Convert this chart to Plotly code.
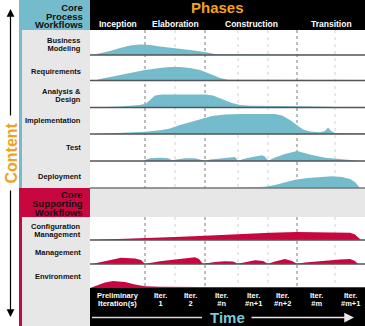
import plotly.graph_objects as go

# ---------------- data ----------------
PHASES = ["Inception", "Elaboration", "Construction", "Transition"]
PHASE_BOUNDS = [0, 55, 115, 207, 275]          # time units
ITER_TOP = ["Preliminary", "Iter.", "Iter.", "Iter.", "Iter.", "Iter.", "Iter.", "Iter."]
ITER_BOTTOM = ["Iteration(s)", "1", "2", "#n", "#n+1", "#n+2", "#m", "#m+1"]
ITER_BOUNDS = [0, 55, 85, 115, 148, 178, 207, 245, 275]

PROCESS_LABELS = [["Business", "Modeling"], ["Requirements"], ["Analysis &", "Design"],
                  ["Implementation"], ["Test"], ["Deployment"]]
SUPPORT_LABELS = [["Configuration", "Management"], ["Management"], ["Environment"]]

bm_t = [2, 10, 20, 30, 40, 50, 60, 70, 85, 100, 115, 125, 135, 275]
bm_h = [0, 1.5, 4, 7, 9.5, 10.5, 10, 8.5, 7, 5, 3, 1, 0.7, 0.5]

req_t = [5, 10, 25, 40, 55, 70, 80, 90, 100, 110, 117, 123, 130, 138, 275]
req_h = [0, 1.5, 4.5, 7.5, 10.5, 12.5, 13.5, 13.5, 12.5, 10.5, 8, 5.5, 2.5, 0.8, 0.5]

ad_t = [10, 30, 50, 56, 60, 65, 72, 90, 115, 123, 130, 135, 142, 150, 160, 210, 240, 275]
ad_h = [0.3, 1, 2.5, 4, 8, 12, 13, 13.2, 13, 12, 9.5, 7.5, 4.5, 2.5, 1.7, 1.2, 0.8, 0.5]

imp_t = [5, 15, 35, 55, 70, 80, 90, 100, 110, 122, 135, 150, 185, 192, 200, 207, 213,
         220, 230, 235, 238, 241, 245, 275]
imp_h = [0, 0.5, 1.2, 2.3, 3.8, 5.5, 9, 12, 15, 18, 19.5, 20, 20, 18.5, 14, 8.5, 4.5,
         2.5, 1.7, 3, 6.5, 3, 1, 0.7]

test_t = [54, 56, 60, 70, 78, 83, 86, 95, 105, 112, 115, 120, 130, 140, 145, 148, 155,
          165, 172, 175, 178, 185, 195, 207, 220, 235, 250, 268, 272]
test_h = [0, 1.5, 2.7, 3.2, 2.7, 0.4, 1.5, 2.8, 2.8, 1.5, 0.3, 1.5, 2.7, 3.7, 4, 0.3, 2.5,
          4.5, 5.7, 4.5, 0.3, 3.5, 7, 10, 6.5, 3.3, 2, 0.7, 0]

dep_t = [140, 165, 175, 185, 195, 205, 218, 230, 242, 252, 260, 265, 268, 270]
dep_h = [0, 0.5, 1.2, 3, 6, 8.3, 10, 11, 11.7, 11, 9, 6, 3, 0]

cfg_t = [0, 20, 55, 85, 115, 150, 180, 207, 240, 260, 265, 268, 271]
cfg_h = [0, 0.6, 1.8, 3, 4.3, 6, 7.3, 8, 7.8, 7.3, 5.5, 3, 0]

mgt_t = [2, 15, 31, 45, 51, 55, 57, 70, 90, 105, 109, 113, 115, 125, 135, 143, 148, 155,
         165, 173, 178, 185, 195, 202, 207, 215, 230, 250, 260, 265, 268]
mgt_h = [0, 3, 6.3, 5.5, 4, 0, 0.5, 2.8, 5, 6.7, 5, 0, 0.5, 2, 2.7, 2.5, 0.3, 2,
         3.7, 3, 0.3, 2.5, 5, 3, 0.3, 1.5, 3, 4.5, 5, 3, 0]

env_t = [0, 5, 15, 23, 35, 45, 55, 70, 110, 275]
env_h = [0, 2, 5.5, 7, 6, 3.5, 1.7, 1.2, 1, 1]

PROCESS_SERIES = [(bm_t, bm_h), (req_t, req_h), (ad_t, ad_h), (imp_t, imp_h),
                  (test_t, test_h), (dep_t, dep_h)]
SUPPORT_SERIES = [(cfg_t, cfg_h), (mgt_t, mgt_h), (env_t, env_h)]

# ---------------- layout constants ----------------
W, H = 365, 326
X0 = 90                   # left edge of time area
XR = 365
BLUE = "#74bccb"
RED = "#c8063f"
GRAY = "#e7e7e7"
ORANGE = "#f2a31b"
FONT = "Liberation Sans, Arial, sans-serif"

process_bases = [55, 80.5, 107.5, 134, 161, 188]
support_bases = [240, 264, 288]
process_label_y = [44.8, 71, 95.3, 120.7, 147.3, 176.7]     # centre of each label block
support_label_y = [230.6, 252.7, 276]

fig = go.Figure()
shapes = []
ann = []


def rect(x0, y0, x1, y1, color, layer="below"):
    shapes.append(dict(type="rect", xref="x", yref="y", x0=x0, x1=x1, y0=y0, y1=y1,
                       fillcolor=color, line=dict(width=0), layer=layer))


def text(x, y, lines, size, color, xanchor="center", angle=0, spacing=None):
    """Multi-line bold text in one annotation; 'spacing' = distance between lines (px)."""
    if isinstance(lines, str):
        lines = [lines]
    if spacing is None:
        spacing = size * 1.3
    base = spacing / 1.3  # plotly line height = 1.3 * base font size
    body = "<br>".join('<span style="font-size:%.2fpx"><b>%s</b></span>' % (size, s)
                       for s in lines)
    ann.append(dict(x=x, y=y, xref="x", yref="y", text=body, showarrow=False,
                    xanchor=xanchor, yanchor="middle", textangle=angle, borderpad=0,
                    align=("right" if xanchor == "right" else "center"),
                    font=dict(family=FONT, size=base, color=color)))


# backgrounds
rect(22, 30, X0, 188, GRAY)
rect(22, 217, X0, H, GRAY)
rect(19, 30, 22, 188, BLUE)
rect(19, 0, X0, 30, BLUE)
rect(19, 188, X0, 217, RED)
rect(19, 217, 22, H, RED)
rect(X0, 0, XR, 30, "#000000")
rect(X0, 188, XR, 217, GRAY)
rect(X0, 288, XR, H, "#000000")

# vertical phase / iteration lines
phase_px = [X0 + b for b in PHASE_BOUNDS[1:-1]]
iter_px = [X0 + b for b in ITER_BOUNDS[1:-1] if b not in PHASE_BOUNDS]
for (ya, yb) in [(30, 188), (217, 288)]:
    for xp in phase_px:
        shapes.append(dict(type="line", xref="x", yref="y", x0=xp, x1=xp, y0=ya, y1=yb,
                           line=dict(color="#a8a8a8", width=1.5, dash="dot"), layer="below"))
    for xp in iter_px:
        shapes.append(dict(type="line", xref="x", yref="y", x0=xp, x1=xp, y0=ya, y1=yb,
                           line=dict(color="#d0d0d0", width=1, dash="3px,4px"), layer="below"))

# humps
for (t, h), base in zip(PROCESS_SERIES, process_bases):
    xs = [X0 + t[0]] + [X0 + v for v in t] + [X0 + t[-1]]
    ys = [base] + [base - v for v in h] + [base]
    fig.add_trace(go.Scatter(x=xs, y=ys, mode="lines", fill="toself", fillcolor=BLUE,
                             line=dict(width=0, color=BLUE), hoverinfo="skip", showlegend=False))
for (t, h), base in zip(SUPPORT_SERIES, support_bases):
    xs = [X0 + t[0]] + [X0 + v for v in t] + [X0 + t[-1]]
    ys = [base] + [base - v for v in h] + [base]
    fig.add_trace(go.Scatter(x=xs, y=ys, mode="lines", fill="toself", fillcolor=RED,
                             line=dict(width=0, color=RED), hoverinfo="skip", showlegend=False))

# baselines
for b in process_bases[:-1] + support_bases[:-1]:
    shapes.append(dict(type="line", xref="x", yref="y", x0=X0, x1=XR, y0=b, y1=b,
                       line=dict(color="#555555", width=1.5), layer="above"))
shapes.append(dict(type="line", xref="x", yref="y", x0=X0, x1=XR, y0=188, y1=188,
                   line=dict(color="#777777", width=1.5), layer="above"))

# header texts
text((X0 + XR) / 2 - 10, 7.5, "Phases", 15, ORANGE)
for name, a, b in zip(PHASES, PHASE_BOUNDS[:-1], PHASE_BOUNDS[1:]):
    text(X0 + (a + b) / 2, 23.5, name, 8.5, "#ffffff")
text(84, 16, ["Core", "Process", "Workflows"], 9.5, "#111111", xanchor="right", spacing=8.7)
text(84, 203, ["Core", "Supporting", "Workflows"], 9.5, "#111111", xanchor="right", spacing=8.8)

# row labels
for lines, y in zip(PROCESS_LABELS + SUPPORT_LABELS, process_label_y + support_label_y):
    text(82, y, lines, 7.5, "#111111", xanchor="right", spacing=8.4)

# iteration labels
for top, bot, a, b in zip(ITER_TOP, ITER_BOTTOM, ITER_BOUNDS[:-1], ITER_BOUNDS[1:]):
    cx = X0 + (a + b) / 2
    text(cx, 299.6, [top, bot], 7.5, "#ffffff", spacing=7.8)

# Time arrow
shapes.append(dict(type="line", xref="x", yref="y", x0=92, x1=202, y0=317.5, y1=317.5,
                   line=dict(color="#d8d8d8", width=1.5), layer="above"))
ann.append(dict(x=354, y=317.5, ax=250, ay=317.5, xref="x", yref="y", axref="x", ayref="y",
                text="", showarrow=True, arrowhead=2, arrowsize=1.3, arrowwidth=1.5,
                arrowcolor="#e8e8e8"))
text(227, 317, "Time", 15, "#7cc7d8")

# Content vertical arrow
ann.append(dict(x=10.5, y=9, ax=10.5, ay=117, xref="x", yref="y", axref="x", ayref="y",
                text="", showarrow=True, arrowhead=2, arrowsize=1.3, arrowwidth=1.2,
                arrowcolor="#000000"))
ann.append(dict(x=10.5, y=317, ax=10.5, ay=189, xref="x", yref="y", axref="x", ayref="y",
                text="", showarrow=True, arrowhead=2, arrowsize=1.3, arrowwidth=1.2,
                arrowcolor="#000000"))
text(10.5, 153, "Content", 16, ORANGE, angle=-90)

fig.update_layout(
    width=W, height=H, autosize=False,
    margin=dict(l=0, r=0, t=0, b=0, pad=0),
    paper_bgcolor="#ffffff", plot_bgcolor="#ffffff",
    xaxis=dict(range=[0, W], visible=False, fixedrange=True),
    yaxis=dict(range=[H, 0], visible=False, fixedrange=True),
    shapes=shapes, annotations=ann, showlegend=False,
)
fig.write_html("out.html", config={"displayModeBar": False})
